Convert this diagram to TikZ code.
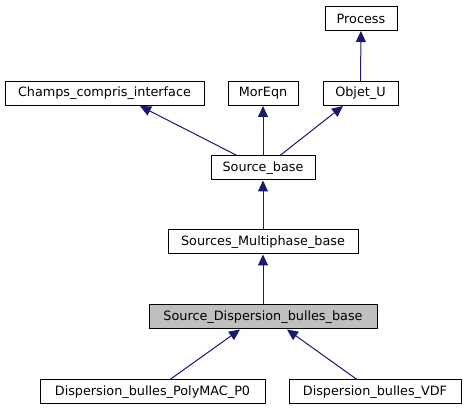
\documentclass[tikz,border=0pt]{standalone}
\usepackage{fontspec}
\setsansfont{DejaVu Sans}
\usetikzlibrary{arrows.meta}
\definecolor{edgeblue}{HTML}{191970}
\definecolor{curgray}{HTML}{BFBFBF}
\begin{document}
\begin{tikzpicture}[x=1pt,y=-1pt,
    cls/.style={draw=black,fill=white,line width=1pt,minimum height=24pt,
      inner sep=0pt,font=\sffamily\fontsize{12.8}{14}\selectfont},
    cur/.style={cls,fill=curgray},
    edge/.style={draw=edgeblue,line width=1pt,
      -{Triangle[length=11pt,width=10pt]}}]
      \useasboundingbox[fill=white] (0,0) rectangle (466,411);
      \draw
        (361,18.5) node[cls,minimum width=72pt] (proc){Process}
        (104.5,93.5) node[cls,minimum width=199pt] (cci){Champs\_compris\_interface}
        (263,93.5) node[cls,minimum width=70pt] (me){MorEqn}
        (360.5,93.5) node[cls,minimum width=75pt] (ou){Objet\_U}
        (263,168) node[cls,minimum width=104pt] (sb){Source\_base}
        (263,242) node[cls,minimum width=190pt] (smb){Sources\_Multiphase\_base}
        (263,317) node[cur,minimum width=228pt] (sdb){Source\_Dispersion\_bulles\_base}
        (152.5,392) node[cls,minimum width=225pt] (pm){Dispersion\_bulles\_PolyMAC\_P0}
        (375,392) node[cls,minimum width=172pt] (vdf){Dispersion\_bulles\_VDF};
      \begin{scope}[edge]
        \draw (ou) to (proc);
        \draw ([xshift=-26pt]sb.north) to ([xshift=35.5pt]cci.south);
        \draw (sb) to (me);
        \draw ([xshift=17pt]sb.north) to ([xshift=-17.5pt]ou.south);
        \draw (smb) to (sb);
        \draw (sdb) to (smb);
        \draw ([xshift=17.5pt]pm.north) to ([xshift=-23pt]sdb.south);
        \draw ([xshift=-18pt]vdf.north) to ([xshift=24pt]sdb.south);
      \end{scope}
    \end{tikzpicture}
\end{document}
